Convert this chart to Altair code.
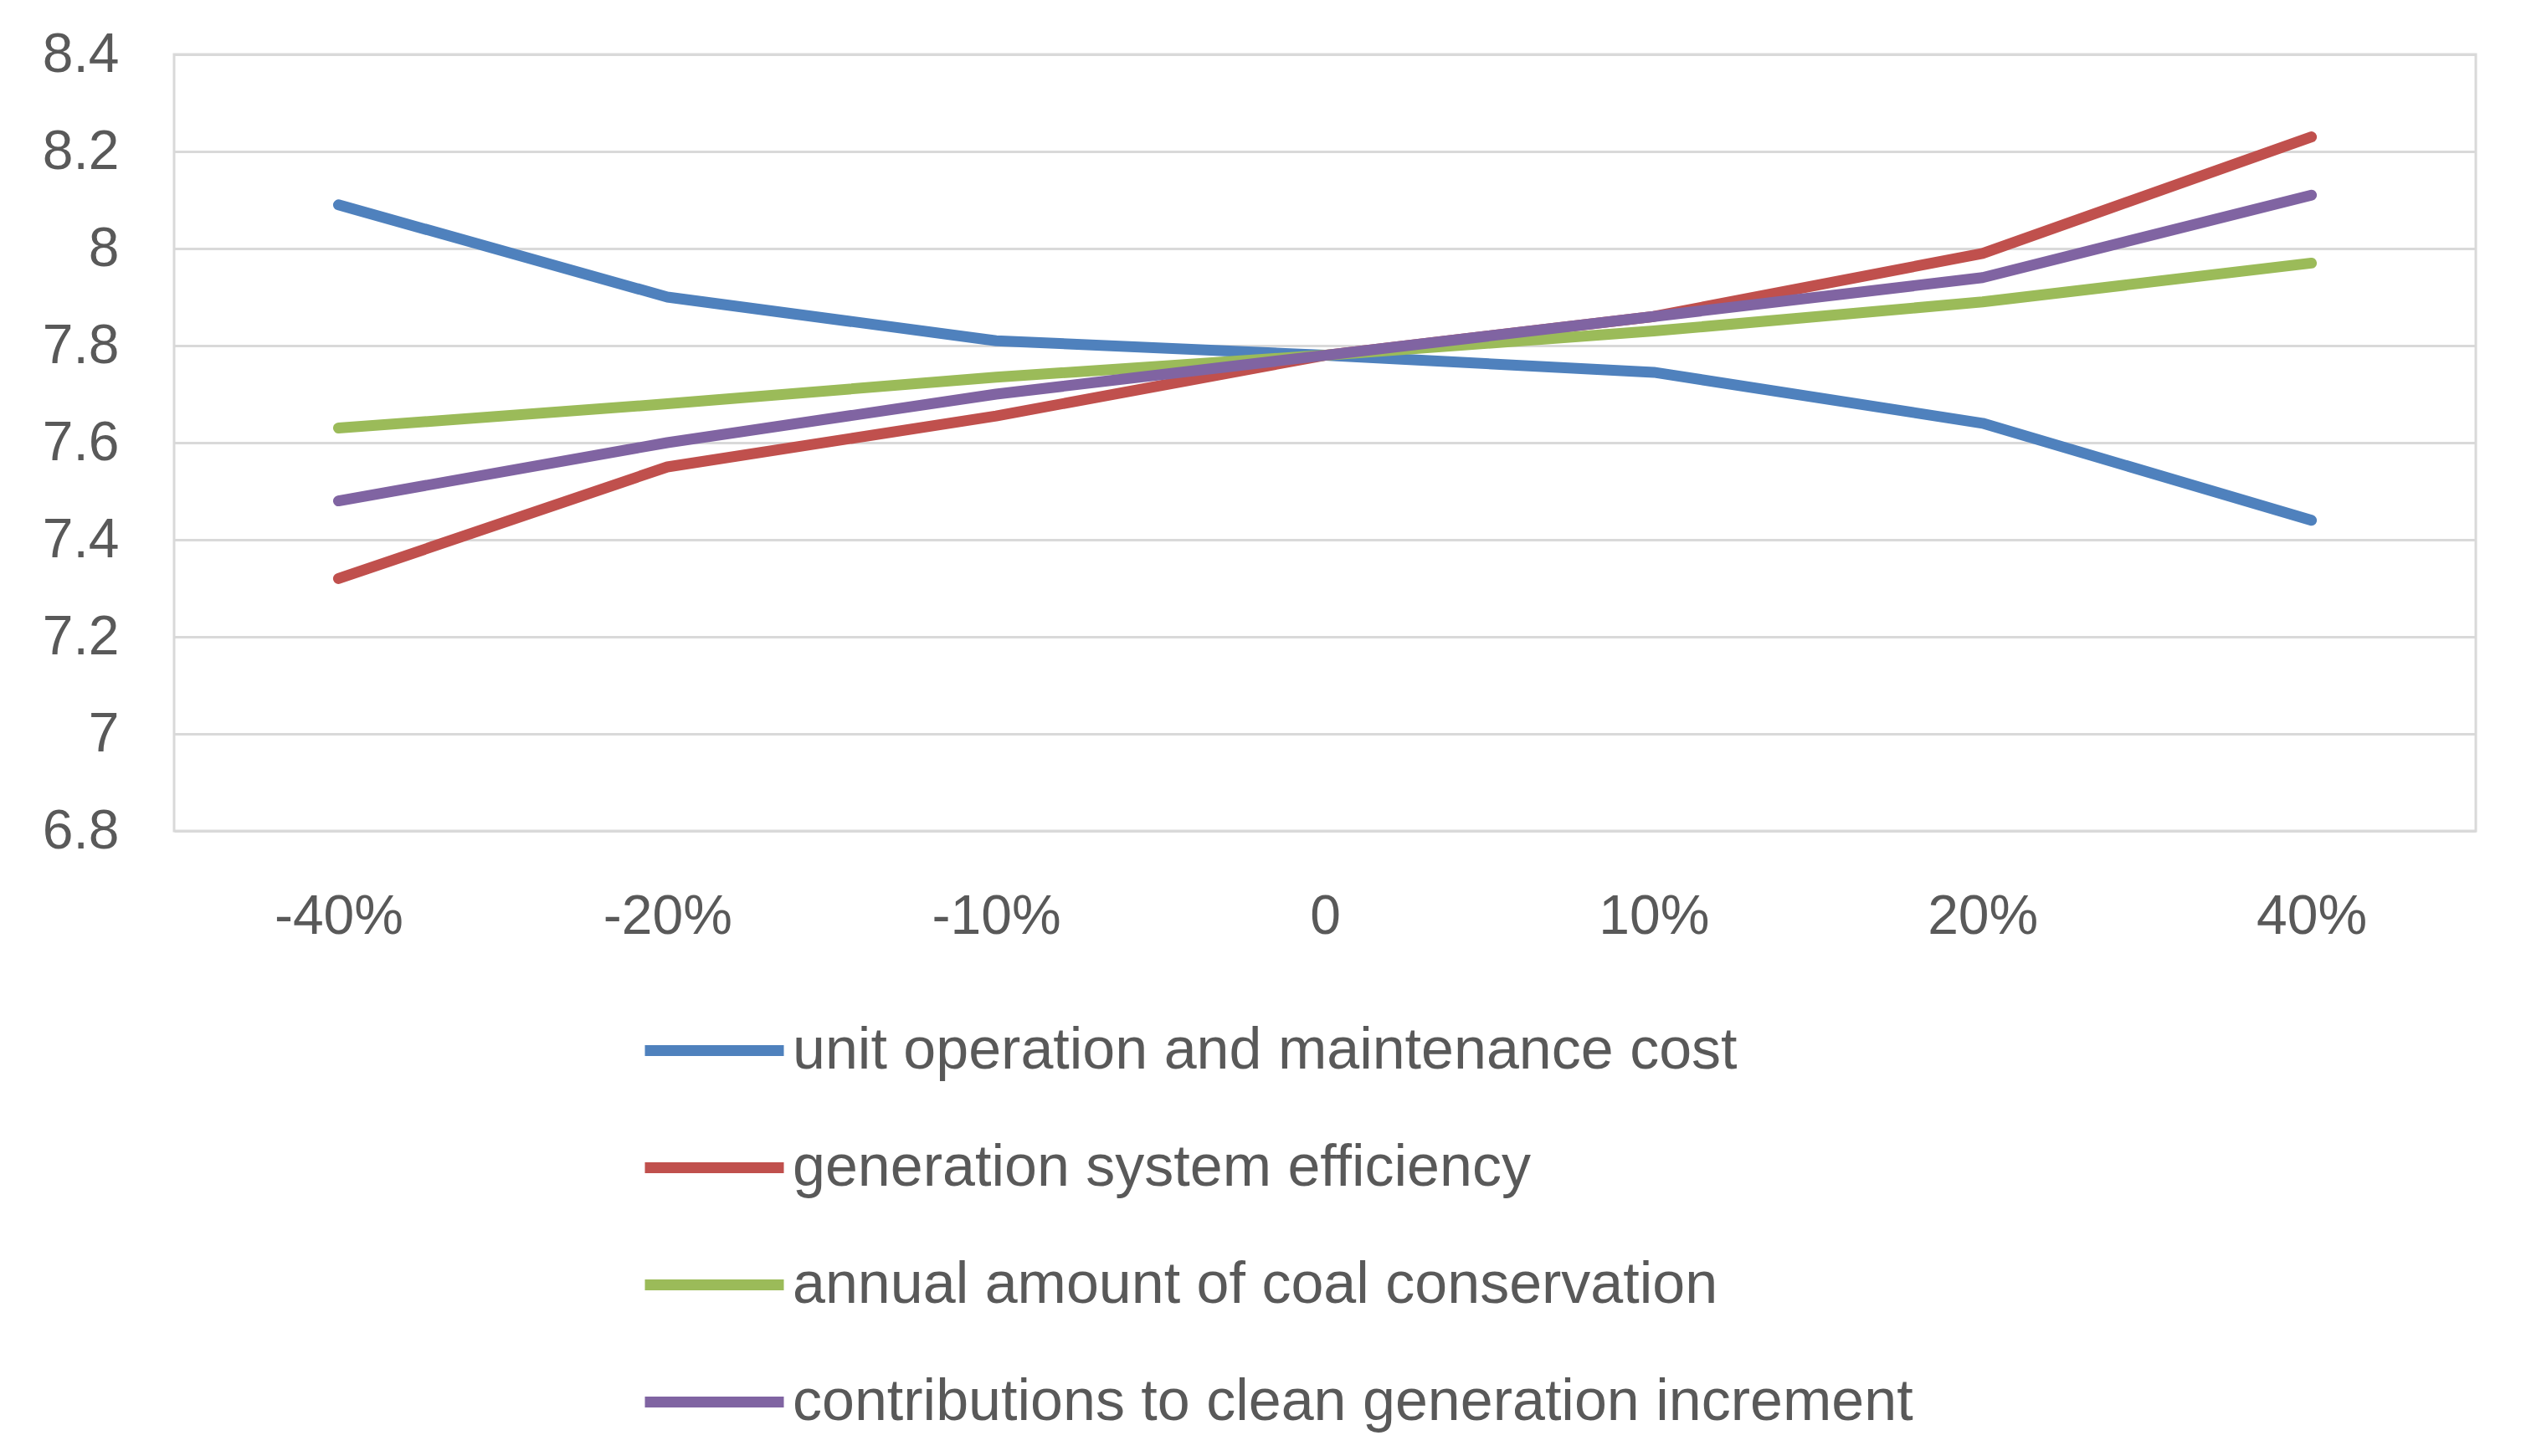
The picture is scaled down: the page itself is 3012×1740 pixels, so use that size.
import altair as alt
import pandas as pd

categories = ["-40%", "-20%", "-10%", "0", "10%", "20%", "40%"]
series_names = [
    "unit operation and maintenance cost",
    "generation system efficiency",
    "annual amount of coal conservation",
    "contributions to clean generation increment",
]
unit_om_cost = [8.09, 7.90, 7.81, 7.78, 7.745, 7.64, 7.44]
gen_efficiency = [7.32, 7.55, 7.655, 7.78, 7.86, 7.99, 8.23]
coal_conservation = [7.63, 7.68, 7.735, 7.78, 7.83, 7.89, 7.97]
clean_generation = [7.48, 7.60, 7.70, 7.78, 7.86, 7.94, 8.11]
colors = ["#4F81BD", "#C0504D", "#9BBB59", "#8064A2"]
y_ticks = [6.8, 7.0, 7.2, 7.4, 7.6, 7.8, 8.0, 8.2, 8.4]

rows = []
for name, vals in zip(series_names,
                      [unit_om_cost, gen_efficiency, coal_conservation, clean_generation]):
    for c, v in zip(categories, vals):
        rows.append({"change": c, "value": v, "series": name})
df = pd.DataFrame(rows)

FONT = "Liberation Sans"
TXT = "#595959"

chart = alt.Chart(df).mark_line(strokeWidth=13, strokeCap="round", strokeJoin="round").encode(
    x=alt.X("change:N", sort=categories,
            scale=alt.Scale(type="point", padding=0.5),
            axis=alt.Axis(title=None, labelAngle=0, domain=False, ticks=False, grid=False,
                          labelFontSize=66, labelColor=TXT, labelFont=FONT, labelPadding=70)),
    y=alt.Y("value:Q", scale=alt.Scale(domain=[6.8, 8.4], nice=False, zero=False),
            axis=alt.Axis(title=None, values=y_ticks, format=".1~f", domain=False, ticks=False,
                          gridColor="#D9D9D9", gridWidth=3,
                          labelFontSize=66, labelColor=TXT, labelFont=FONT, labelPadding=66)),
    color=alt.Color("series:N", sort=series_names,
                    scale=alt.Scale(domain=series_names, range=colors),
                    legend=alt.Legend(title=None, orient="none", legendX=556, legendY=1101,
                                      direction="vertical",
                                      symbolType="stroke", symbolSize=27556,
                                      symbolStrokeWidth=13,
                                      labelFontSize=70, labelColor=TXT, labelFont=FONT,
                                      labelOffset=4, rowPadding=15, labelLimit=2000)),
    order=alt.value(0),
).properties(
    width=2750, height=928,
    autosize=alt.AutoSizeParams(type="none"),
    padding={"left": 200, "top": 57, "right": 46, "bottom": 740},
).configure_view(stroke="#D9D9D9", strokeWidth=3)

chart.save("out.html", embed_options={"renderer": "svg", "actions": False})
